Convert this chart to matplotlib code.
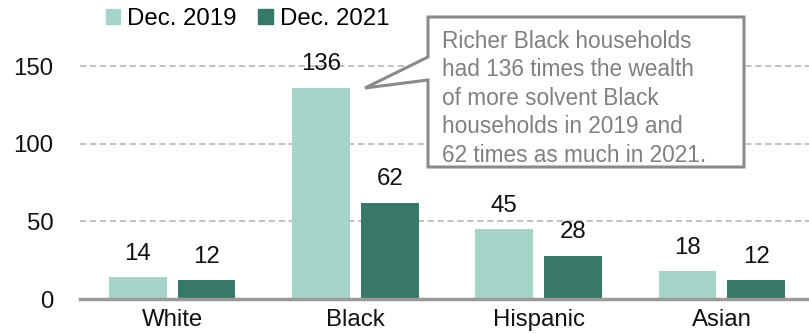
import matplotlib.pyplot as plt
import numpy as np
from matplotlib.patches import Polygon, Patch

plt.rcParams['font.family'] = ['Liberation Sans', 'DejaVu Sans']

groups = ['White', 'Black', 'Hispanic', 'Asian']
dec_2019 = [14, 136, 45, 18]
dec_2021 = [12, 62, 28, 12]
series_names = ['Dec. 2019', 'Dec. 2021']
y_ticks = [0, 50, 100, 150]
note = ("Richer Black households\n"
        "had 136 times the wealth\n"
        "of more solvent Black\n"
        "households in 2019 and\n"
        "62 times as much in 2021.")

LIGHT = '#a6d4c8'
DARK = '#387868'
W, H = 809, 333
FS = 17.3


def px(x, y):
    # pixel position (origin top-left) -> figure fraction
    return (x / W, 1 - y / H)


fig = plt.figure(figsize=(W / 100, H / 100), dpi=100)
ax = fig.add_axes([80 / W, 34 / H, 1 - 80 / W, (299 - 35) / H])

x = np.arange(len(groups))
off, width = 0.188, 0.316
b1 = ax.bar(x - off, dec_2019, width, color=LIGHT, zorder=2)
b2 = ax.bar(x + off, dec_2021, width, color=DARK, zorder=2)

for bars, vals in ((b1, dec_2019), (b2, dec_2021)):
    for rect, v in zip(bars, vals):
        ax.annotate(str(v), (rect.get_x() + rect.get_width() / 2, v),
                    xytext=(0, 9), textcoords='offset points',
                    ha='center', va='bottom', fontsize=FS, color='#111111')

ax.set_xlim(-0.502, 3.475)
ax.set_ylim(0, 170)
ax.set_yticks(y_ticks)
ax.set_xticks(x)
ax.set_xticklabels(groups)
ax.tick_params(axis='both', length=0, labelsize=FS, colors='#111111')
ax.tick_params(axis='y', pad=19)
ax.tick_params(axis='x', pad=7)

for t in y_ticks[1:]:
    ax.axhline(t, color='#bdbdbd', lw=1.3, ls=(0, (3.5, 2)), zorder=1)

for s in ['left', 'top', 'right']:
    ax.spines[s].set_visible(False)
ax.spines['bottom'].set_color('#9a9a9a')
ax.spines['bottom'].set_linewidth(2.5)
ax.spines['bottom'].set_zorder(3)

handles = [Patch(color=LIGHT), Patch(color=DARK)]
fig.legend(handles, series_names, loc='upper left', bbox_to_anchor=px(102, 4),
           ncol=2, frameon=False, fontsize=FS, handlelength=0.6,
           handleheight=0.6, handletextpad=0.3, columnspacing=0.9,
           borderaxespad=0, borderpad=0.15)

# callout box with pointer towards the Black 2019 bar
callout = [px(428, 17), px(744, 17), px(744, 167), px(428, 167),
           px(428, 80), px(365, 88), px(428, 57)]
fig.patches.append(Polygon(callout, closed=True, transform=fig.transFigure,
                           facecolor='white', edgecolor='#8a8a8a', lw=2.2,
                           zorder=5))
fig.text(*px(442, 30), note, ha='left', va='top', fontsize=16.3,
         color='#808080', linespacing=1.3, zorder=6)

fig.savefig('out.png', dpi=100)
